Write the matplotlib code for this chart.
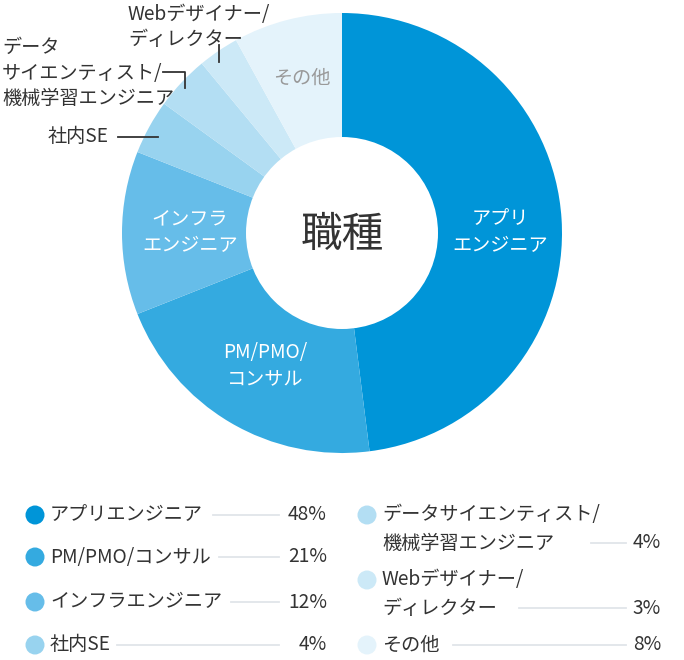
import matplotlib
matplotlib.use("Agg")
import matplotlib.pyplot as plt
from matplotlib.patches import Circle

plt.rcParams['font.family'] = ['Noto Sans CJK JP', 'DejaVu Sans']

categories = ["アプリエンジニア", "PM/PMO/コンサル", "インフラエンジニア", "社内SE",
              "データサイエンティスト/\n機械学習エンジニア", "Webデザイナー/\nディレクター", "その他"]
values = [48, 21, 12, 4, 4, 3, 8]
colors = ["#0095d8", "#34aae0", "#66bde9", "#98d3ef", "#b3def3", "#cce9f7", "#e4f3fb"]
pct_labels = ["48%", "21%", "12%", "4%", "4%", "3%", "8%"]

W, H = 684, 660
FS = 13.8
fig = plt.figure(figsize=(W / 100, H / 100), dpi=100)

# Pie axes with y upward
pax = fig.add_axes([0, 0, 1, 1])
cx, cy, R, r = 342, H - 233, 220, 96
pax.pie(values, colors=colors, startangle=90, counterclock=False,
        center=(cx, cy), radius=R, wedgeprops=dict(linewidth=0), frame=True)
pax.set_xlim(0, W)
pax.set_ylim(0, H)
pax.set_aspect('equal')
pax.axis('off')
pax.add_patch(Circle((cx, cy), r, facecolor='white', edgecolor='none'))

# top overlay for text
tax = fig.add_axes([0, 0, 1, 1])
tax.set_xlim(0, W)
tax.set_ylim(H, 0)
tax.axis('off')

dark = "#333333"
tax.text(342, 236, "職種", ha='center', va='center', fontsize=30, color=dark)
tax.text(500, 232, "アプリ\nエンジニア", ha='center', va='center', fontsize=FS,
         color='white', linespacing=1.35)
tax.text(265, 366, "PM/PMO/\nコンサル", ha='center', va='center', fontsize=FS,
         color='white', linespacing=1.35)
tax.text(190, 232, "インフラ\nエンジニア", ha='center', va='center', fontsize=FS,
         color='white', linespacing=1.35)
tax.text(302, 78, "その他", ha='center', va='center', fontsize=FS, color='#999999')

# outer labels
tax.text(48, 137, "社内SE", ha='left', va='center', fontsize=FS, color=dark)
tax.plot([118, 158], [137, 137], color=dark, lw=1.3)
tax.text(2, 73, "データ\nサイエンティスト/\n機械学習エンジニア", ha='left', va='center',
         fontsize=FS, color=dark, linespacing=1.28)
tax.plot([163, 185, 185], [72, 72, 88], color=dark, lw=1.3)
tax.text(128, 27, "Webデザイナー/\nディレクター", ha='left', va='center',
         fontsize=FS, color=dark, linespacing=1.28)
tax.plot([219, 219], [45, 62], color=dark, lw=1.3)

# legend
line_col = "#e1e5e9"
left_rows = [(515, 213), (557, 219), (602, 231), (645, 117)]
for i, (y, lx) in enumerate(left_rows):
    tax.add_patch(Circle((35, y), 9.5, facecolor=colors[i], edgecolor='none'))
    tax.text(50, y, categories[i], ha='left', va='center', fontsize=FS, color=dark)
    tax.plot([lx, 279], [y, y], color=line_col, lw=1.3)
    tax.text(327, y, pct_labels[i], ha='right', va='center', fontsize=FS, color=dark)

right_rows = [(515, 543, 591), (580, 608, 519), (645, 645, 453)]
for j, (yc, yl, lx) in enumerate(right_rows):
    i = 4 + j
    tax.add_patch(Circle((367, yc), 9.5, facecolor=colors[i], edgecolor='none'))
    tax.text(382, (yc + yl) / 2, categories[i], ha='left', va='center', fontsize=FS,
             color=dark, linespacing=1.5)
    tax.plot([lx, 626], [yl, yl], color=line_col, lw=1.3)
    tax.text(661, yl, pct_labels[i], ha='right', va='center', fontsize=FS, color=dark)

fig.savefig("out.png", dpi=100)
